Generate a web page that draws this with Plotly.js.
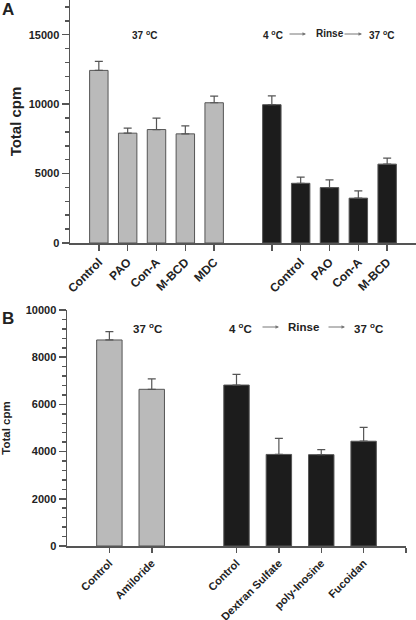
<!DOCTYPE html>
<html><head><meta charset="utf-8">
<script src="https://cdn.plot.ly/plotly-3.0.1.min.js"></script>
<style>html,body{margin:0;padding:0;background:#fff}#chart{width:416px;height:620px}</style>
</head><body><div id="chart"></div>
<script>
// Panel A data
const aGrayCats = ['Control','PAO','Con-A','M-BCD','MDC'];
const aGrayVals = [12430, 7910, 8170, 7860, 10100];
const aGrayErr  = [650, 360, 820, 580, 480];
const aBlackCats = ['', 'Control','PAO','Con-A','M-BCD'];
const aBlackVals = [9960, 4300, 3990, 3230, 5680];
const aBlackErr  = [630, 440, 555, 525, 430];
// Panel B data
const bGrayCats = ['Control','Amiloride'];
const bGrayVals = [8730, 6640];
const bGrayErr  = [350, 440];
const bBlackCats = ['Control','Dextran Sulfate','poly-Inosine','Fucoidan'];
const bBlackVals = [6820, 3880, 3870, 4440];
const bBlackErr  = [450, 680, 210, 590];

const FONT = 'Liberation Sans, Arial, sans-serif';
const GRAY = '#bababa', BLACK = '#1c1c1c', LINE = '#555';

const aGrayX = aGrayCats.map((_, i) => i);
const aBlackX = aBlackCats.map((_, i) => i + aGrayCats.length + 1);
const bGrayX = bGrayCats.map((_, i) => i);
const bBlackX = bBlackCats.map((_, i) => i + bGrayCats.length + 1);

function bar(x, y, err, color, xa, ya, width) {
  return {type:'bar', x:x, y:y, xaxis:xa, yaxis:ya, width:width,
    marker:{color:color, line:{color:LINE, width:1}},
    error_y:{type:'data', symmetric:false, array:err, arrayminus:err.map(()=>0),
      color:'#555', thickness:1.2, width:4},
    hoverinfo:'skip', showlegend:false};
}

const traces = [
  bar(aGrayX, aGrayVals, aGrayErr, GRAY, 'x', 'y', 0.64),
  bar(aBlackX, aBlackVals, aBlackErr, BLACK, 'x', 'y', 0.64),
  bar(bGrayX, bGrayVals, bGrayErr, GRAY, 'x2', 'y2', 0.6),
  bar(bBlackX, bBlackVals, bBlackErr, BLACK, 'x2', 'y2', 0.6)
];

const aTickVals = aGrayX.concat(aBlackX);
const aTickText = aGrayCats.concat(aBlackCats);
const bTickVals = bGrayX.concat(bBlackX, [bBlackX[bBlackX.length-1] + 1]);
const bTickText = bGrayCats.concat(bBlackCats, ['']);

const tickFontA = {family:FONT, size:12, color:'#222', weight:'bold'};
const tickFontB = {family:FONT, size:11, color:'#222', weight:'bold'};
const tickFontY = {family:FONT, size:11, color:'#222', weight:'bold'};
const axCommon = {showline:true, linecolor:LINE, linewidth:1.5, ticks:'outside', tickcolor:LINE,
  tickwidth:1.5, zeroline:false, showgrid:false, fixedrange:true};

const layout = {
  width:416, height:620, margin:{l:0, r:0, t:0, b:0},
  paper_bgcolor:'#fff', plot_bgcolor:'#fff',
  font:{family:FONT, color:'#222'},
  xaxis: Object.assign({}, axCommon, {domain:[70/416, 1], range:[-1, 11], anchor:'y',
    tickvals:aTickVals, ticktext:aTickText, tickangle:-45, ticklen:6, tickfont:tickFontA}),
  yaxis: Object.assign({}, axCommon, {domain:[(620-243)/620, 1], range:[0, 17500], anchor:'x',
    dtick:5000, tickformat:'d', ticklen:7, tickfont:tickFontY,
    minor:{dtick:1000, ticklen:4, ticks:'outside', tickcolor:LINE, showgrid:false},
    title:{text:'Total cpm', font:{family:FONT, size:15, weight:'bold', color:'#222'}, standoff:3}}),
  xaxis2: Object.assign({}, axCommon, {domain:[67/416, 406/416], range:[-1, 7], anchor:'y2',
    tickvals:bTickVals, ticktext:bTickText, tickangle:-45, ticklen:5, tickfont:tickFontB}),
  yaxis2: Object.assign({}, axCommon, {domain:[(620-546)/620, (620-310)/620], range:[0, 10000], anchor:'x2',
    dtick:2000, tickformat:'d', ticklen:7, tickfont:tickFontY,
    minor:{dtick:400, ticklen:4, ticks:'outside', tickcolor:LINE, showgrid:false},
    title:{text:'Total cpm', font:{family:FONT, size:11.5, weight:'bold', color:'#222'}, standoff:12}}),
  annotations: []
};

function txt(x, y, text, size, extra) {
  return Object.assign({xref:'paper', yref:'paper', x:x/416, y:(620-y)/620, text:text, showarrow:false,
    font:{family:FONT, size:size, weight:'bold', color:'#222'}, xanchor:'left', yanchor:'middle'}, extra||{});
}
function arrow(x0, x1, y) {
  return {xref:'paper', yref:'paper', x:x1/416, y:(620-y)/620, ax:x0 - x1, ay:0, axref:'pixel', ayref:'pixel',
    showarrow:true, arrowhead:2, arrowsize:0.7, arrowwidth:1, arrowcolor:'#777', text:''};
}
const A = layout.annotations;
A.push(txt(0, 9, 'A', 17));
A.push(txt(0, 318, 'B', 17));
// Panel A header
A.push(txt(130, 35, '37 <sup>o</sup>C', 10));
A.push(txt(261, 35, '4 <sup>o</sup>C', 10));
A.push(arrow(288, 306, 34));
A.push(txt(314, 34, 'Rinse', 10));
A.push(arrow(343, 362, 34));
A.push(txt(367, 35, '37 <sup>o</sup>C', 10));
// Panel B header
A.push(txt(131, 328, '37 <sup>o</sup>C', 11.5));
A.push(txt(227, 328, '4 <sup>o</sup>C', 11.5));
A.push(arrow(261, 279, 327));
A.push(txt(286, 327, 'Rinse', 11.5));
A.push(arrow(327, 345, 327));
A.push(txt(352, 328, '37 <sup>o</sup>C', 11.5));

Plotly.newPlot('chart', traces, layout, {staticPlot:true, displayModeBar:false});
</script></body></html>
